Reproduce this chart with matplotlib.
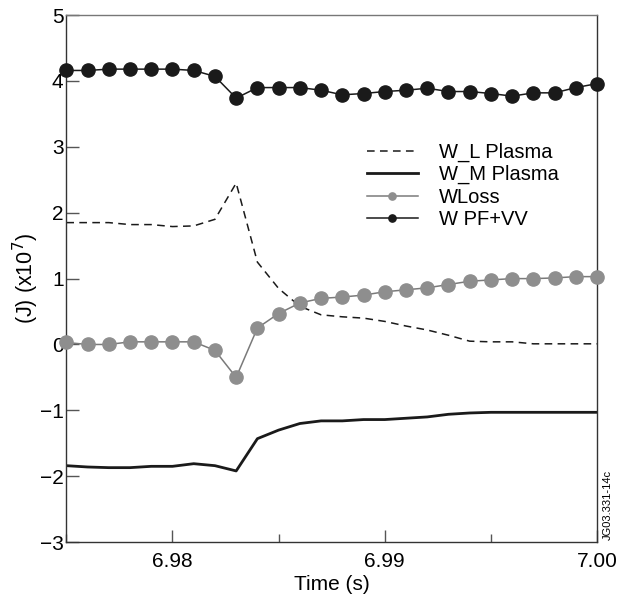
import matplotlib
matplotlib.use('Agg')
from matplotlib import pyplot as plt
from matplotlib.ticker import MultipleLocator

plt.rcParams['font.family'] = ['Liberation Sans', 'DejaVu Sans']

# time base, 1 ms steps
time = [6.975, 6.976, 6.977, 6.978, 6.979, 6.980, 6.981, 6.982, 6.983,
        6.984, 6.985, 6.986, 6.987, 6.988, 6.989, 6.990, 6.991, 6.992,
        6.993, 6.994, 6.995, 6.996, 6.997, 6.998, 6.999, 7.000]

w_l_plasma = [1.85, 1.85, 1.85, 1.82, 1.82, 1.79, 1.80, 1.90, 2.45,
              1.25, 0.85, 0.58, 0.45, 0.42, 0.40, 0.35, 0.28, 0.22,
              0.14, 0.05, 0.04, 0.04, 0.01, 0.01, 0.01, 0.01]

w_m_plasma = [-1.84, -1.86, -1.87, -1.87, -1.85, -1.85, -1.81, -1.84, -1.92,
              -1.43, -1.30, -1.20, -1.16, -1.16, -1.14, -1.14, -1.12, -1.10,
              -1.06, -1.04, -1.03, -1.03, -1.03, -1.03, -1.03, -1.03]

w_loss = [0.03, 0.00, 0.00, 0.04, 0.04, 0.04, 0.04, -0.09, -0.50,
          0.25, 0.47, 0.63, 0.70, 0.72, 0.75, 0.80, 0.83, 0.86,
          0.91, 0.96, 0.98, 1.00, 1.00, 1.01, 1.03, 1.03]

w_pf_vv = [4.16, 4.16, 4.18, 4.18, 4.18, 4.18, 4.16, 4.07, 3.74,
           3.90, 3.90, 3.90, 3.86, 3.79, 3.81, 3.84, 3.86, 3.89,
           3.84, 3.84, 3.81, 3.77, 3.82, 3.82, 3.90, 3.96]

fig = plt.figure(figsize=(6.2, 6.05), dpi=100)
ax = fig.add_axes([0.107, 0.104, 0.856, 0.871])

ax.plot(time, w_l_plasma, color='#1a1a1a', lw=1.1, ls=(0, (5, 3.5)), label='W_L Plasma')
ax.plot(time, w_m_plasma, color='#1a1a1a', lw=2.0, label='W_M Plasma')
ax.plot(time, w_loss, color='#7a7a7a', lw=1.1, marker='o', ms=9.5,
        mfc='#8e8e8e', mec='#8e8e8e', label='WLoss', clip_on=False, zorder=3)
ax.plot(time, w_pf_vv, color='#1a1a1a', lw=1.1, marker='o', ms=9.5,
        mfc='#1a1a1a', mec='#1a1a1a', label='W PF+VV', clip_on=False, zorder=4)

ax.set_xlim(6.975, 7.00)
ax.set_ylim(-3, 5)
ax.xaxis.set_major_locator(MultipleLocator(0.01))
ax.xaxis.set_minor_locator(MultipleLocator(0.005))
ax.set_xticks([6.98, 6.99, 7.00])
ax.set_xticklabels(['6.98', '6.99', '7.00'])
ax.yaxis.set_major_locator(MultipleLocator(1))
ax.tick_params(axis='both', which='major', direction='in', length=9, width=1,
               labelsize=15, top=False, right=False, color='#555555')
ax.tick_params(axis='x', which='minor', direction='in', length=6, width=1,
               top=False, color='#555555')
ax.tick_params(axis='x', pad=7)
ax.tick_params(axis='y', pad=2)
for s in ['left', 'right', 'bottom', 'top']:
    ax.spines[s].set_linewidth(1)
    ax.spines[s].set_color('#333333')
ax.spines['top'].set_color('#777777')

ax.set_xlabel('Time (s)', fontsize=15, labelpad=3)
ax.set_ylabel('(J) (x10$^7$)', fontsize=15.5, labelpad=-1)

leg = ax.legend(loc='center left', bbox_to_anchor=(0.567, 0.676), frameon=False,
                fontsize=14.5, markerscale=0.55, handlelength=2.5,
                handletextpad=1.05, labelspacing=0.16, borderaxespad=0,
                borderpad=0)

ax.text(1.011, 0.003, 'JG03.331-14c', transform=ax.transAxes, rotation=90,
        fontsize=8, ha='left', va='bottom')

fig.savefig('out.png', dpi=100)
